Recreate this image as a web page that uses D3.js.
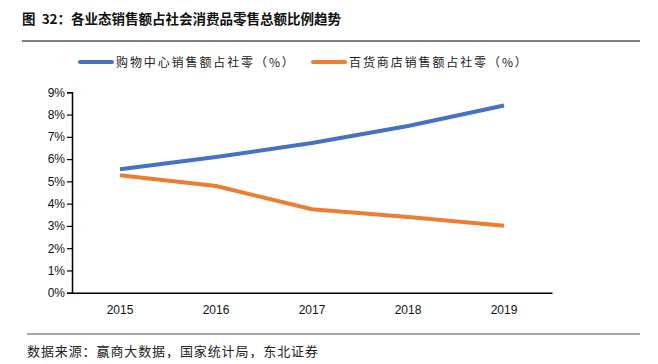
<!DOCTYPE html>
<html><head><meta charset="utf-8">
<script src="https://cdn.jsdelivr.net/npm/d3@7"></script>
<style>body{margin:0;background:#fff}</style>
</head><body>
<svg id="c" width="658" height="364"></svg>
<script>
const categories = ["2015","2016","2017","2018","2019"];
const mallShare = [5.54, 6.09, 6.72, 7.49, 8.41];
const deptShare = [5.27, 4.79, 3.75, 3.40, 3.01];
const yTicks = [0,1,2,3,4,5,6,7,8,9];
const seriesNames = ["购物中心销售额占社零（%）", "百货商店销售额占社零（%）"];
const colors = ["#4472C4", "#ED7D31"];

const svg = d3.select("#c");
const cjk = "'Noto Sans CJK SC', sans-serif";

svg.append("text").attr("x",22).attr("y",24).attr("font-family",cjk).attr("font-weight","bold")
  .attr("font-size",13.5).attr("fill","#111").text("图\u00a0\u00a032：各业态销售额占社会消费品零售总额比例趋势");
svg.append("line").attr("x1",22).attr("x2",640).attr("y1",41).attr("y2",41).attr("stroke","#555").attr("stroke-width",1.5);

const x = d3.scaleBand().domain(categories).range([72,552]);
const y = d3.scaleLinear().domain([0,9]).range([292.7,92.3]);

const yAxis = svg.append("g").attr("transform","translate(72,0)")
  .call(d3.axisLeft(y).tickValues(yTicks).tickFormat(d=>d+"%").tickSizeOuter(0).tickSize(5));
yAxis.select(".domain").attr("stroke","#000").attr("stroke-width",1.5);
yAxis.selectAll(".tick line").attr("stroke","#000").attr("stroke-width",1.2);
yAxis.selectAll("text").attr("font-family","'Liberation Sans', Arial, sans-serif").attr("font-size",12).attr("fill","#111").attr("x",-7);

const xAxis = svg.append("g").attr("transform","translate(0,292.7)")
  .call(d3.axisBottom(x).tickSize(0).tickSizeOuter(0));
xAxis.select(".domain").attr("stroke","#000").attr("stroke-width",1.5);
xAxis.selectAll("text").attr("font-family","'Liberation Sans', Arial, sans-serif").attr("font-size",12).attr("fill","#111").attr("dy","1.55em");

const line = d3.line().x((d,i)=>x(categories[i])+x.bandwidth()/2).y(d=>y(d));
[mallShare, deptShare].forEach((s,k)=>{
  svg.append("path").datum(s).attr("d",line).attr("fill","none").attr("stroke",colors[k])
    .attr("stroke-width",4).attr("stroke-linejoin","round");
});

const legX = [80, 313];
seriesNames.forEach((n,k)=>{
  svg.append("line").attr("x1",legX[k]).attr("x2",legX[k]+32).attr("y1",62).attr("y2",62)
    .attr("stroke",colors[k]).attr("stroke-width",4).attr("stroke-linecap","round");
  svg.append("text").attr("x",legX[k]+36).attr("y",66.5).attr("font-family",cjk).attr("font-size",12)
    .attr("letter-spacing",1.9).attr("fill","#222").text(n);
});

svg.append("line").attr("x1",27).attr("x2",640).attr("y1",334).attr("y2",334).attr("stroke","#888").attr("stroke-width",1.5);
svg.append("text").attr("x",27).attr("y",356).attr("font-family",cjk).attr("font-size",13)
  .attr("letter-spacing",0.9).attr("fill","#222").text("数据来源：赢商大数据，国家统计局，东北证券");
</script>
</body></html>
